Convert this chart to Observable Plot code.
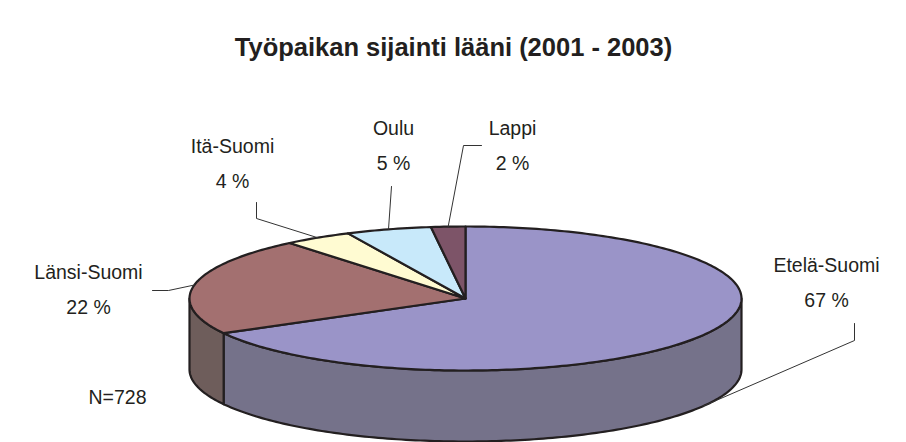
<!DOCTYPE html>
<html>
<head>
<meta charset="utf-8">
<script src="https://cdn.jsdelivr.net/npm/d3@7"></script>
<script src="https://cdn.jsdelivr.net/npm/@observablehq/plot@0.6"></script>
<style>
  html, body { margin: 0; padding: 0; background: #fff; }
  #chart svg { display: block; background: #fff; }
</style>
</head>
<body>
<div id="chart"></div>
<script>
// ---- data ----
const categories = ["Etelä-Suomi", "Länsi-Suomi", "Itä-Suomi", "Oulu", "Lappi"];
const percents = [67, 22, 4, 5, 2];
const pctLabels = ["67 %", "22 %", "4 %", "5 %", "2 %"];
const titleText = "Työpaikan sijainti lääni (2001 - 2003)";
const noteText = "N=728";

// ---- styles ----
const topColors = ["#9a94c8", "#a37070", "#fffbd2", "#c8e9fa", "#7d5468"];
const sideColors = ["#75728a", "#6e5d5b", "#c8c4a0", "#9ab4c4", "#5a3e4c"];

// ---- layout (pixel units of the plot frame) ----
const W = 906, H = 442;
const CX = 465, CY = 298, RX = 276, RY = 72, DEPTH = 71;
const labelAnchors = [[826, 265], [88, 272], [232, 146], [393, 128], [512, 128]];
const lineGap = 35;
// leader line bends, before the point on the pie edge
const leaderBends = [
  [[854, 323], [854, 340]],
  [[152, 290], [168, 290]],
  [[256, 202], [256, 218]],
  [[391, 186]],
  [[481, 145], [463, 145]]
];

// ---- geometry from data ----
const total = d3.sum(percents);
const angles = [];
let acc = 0;
percents.forEach((p) => {
  const a0 = (acc / total) * 2 * Math.PI;
  acc += p;
  const a1 = (acc / total) * 2 * Math.PI;
  angles.push([a0, a1]);
});
const pt = (a, dz = 0) => [CX + RX * Math.sin(a), CY - RY * Math.cos(a) + dz];
function arc(a0, a1, dz) {
  const n = Math.max(2, Math.ceil(Math.abs(a1 - a0) / (Math.PI / 180)));
  const out = [];
  for (let i = 0; i <= n; i++) out.push(pt(a0 + (a1 - a0) * i / n, dz));
  return out;
}

const sideRows = [];
const topRows = [];
categories.forEach((c, i) => {
  const [a0, a1] = angles[i];
  const s = Math.max(a0, Math.PI / 2), e = Math.min(a1, 3 * Math.PI / 2);
  if (e > s) {
    const poly = [...arc(s, e, 0), ...arc(e, s, DEPTH)];
    poly.push(poly[0]);
    poly.forEach(([x, y]) => sideRows.push({id: c, x, y, color: sideColors[i]}));
  }
  const top = [[CX, CY], ...arc(a0, a1, 0), [CX, CY]];
  top.forEach(([x, y]) => topRows.push({id: c, x, y, color: topColors[i]}));
});

const leaderRows = [];
categories.forEach((c, i) => {
  const [a0, a1] = angles[i];
  const m = (a0 + a1) / 2;
  const front = Math.cos(m) < 0; // lower half of the pie: attach at the base edge
  const end = pt(m, front ? DEPTH : 0);
  [...leaderBends[i], end].forEach(([x, y]) => leaderRows.push({id: c, x, y}));
});

const labelRows = categories.map((c, i) => ({
  name: c, pct: pctLabels[i], x: labelAnchors[i][0], y: labelAnchors[i][1]
}));

const font = "Liberation Sans, Arial, Helvetica, sans-serif";
const ink = "#231f20";

const chart = Plot.plot({
  width: W,
  height: H,
  margin: 0,
  x: {domain: [0, W], range: [0, W], axis: null},
  y: {domain: [0, H], range: [0, H], axis: null},
  color: {type: "identity"},
  style: {fontFamily: font, background: "#fff"},
  marks: [
    Plot.line(sideRows, {x: "x", y: "y", z: "id", fill: "color", stroke: ink, strokeWidth: 2.2, strokeLinejoin: "round", curve: "linear"}),
    Plot.line(topRows, {x: "x", y: "y", z: "id", fill: "color", stroke: ink, strokeWidth: 2.2, strokeLinejoin: "round", curve: "linear"}),
    Plot.line(leaderRows, {x: "x", y: "y", z: "id", stroke: "#333", strokeWidth: 1, curve: "linear"}),
    Plot.text(labelRows, {x: "x", y: "y", text: "name", fontSize: 19.5, fill: ink, fontFamily: font}),
    Plot.text(labelRows, {x: "x", y: (d) => d.y + lineGap, text: "pct", fontSize: 19.5, fill: ink, fontFamily: font}),
    Plot.text([noteText], {x: 117, y: 397, text: (d) => d, fontSize: 19.5, fill: ink, fontFamily: font}),
    Plot.text([titleText], {x: 453, y: 47, text: (d) => d, fontSize: 25.5, fontWeight: "bold", fill: ink, fontFamily: font})
  ]
});
document.getElementById("chart").appendChild(chart);
</script>
</body>
</html>
